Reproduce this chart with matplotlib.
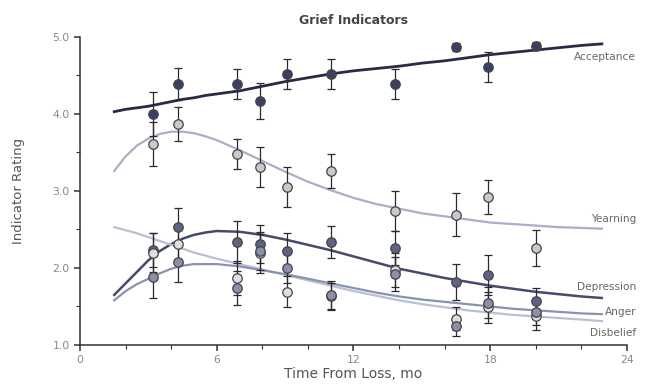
import matplotlib.pyplot as plt
from matplotlib.ticker import MultipleLocator

# measurement times (months)
tempos = [3.2, 4.3, 6.9, 7.9, 9.1, 11.0, 13.8, 16.5, 17.9, 20.0]

acceptance = [4.00, 4.39, 4.39, 4.17, 4.52, 4.52, 4.39, 4.87, 4.61, 4.88]
acceptance_err = [0.28, 0.21, 0.20, 0.23, 0.19, 0.19, 0.20, 0.05, 0.20, 0.05]
yearning = [3.61, 3.87, 3.48, 3.31, 3.05, 3.26, 2.74, 2.69, 2.92, 2.26]
yearning_err = [0.28, 0.22, 0.20, 0.26, 0.26, 0.22, 0.26, 0.28, 0.22, 0.23]
depression = [2.23, 2.53, 2.34, 2.31, 2.22, 2.34, 2.26, 1.82, 1.91, 1.57]
depression_err = [0.22, 0.25, 0.27, 0.25, 0.23, 0.21, 0.22, 0.23, 0.26, 0.17]
anger = [1.88, 2.08, 1.74, 2.22, 2.00, 1.65, 1.92, 1.25, 1.55, 1.43]
anger_err = [0.27, 0.26, 0.22, 0.25, 0.20, 0.18, 0.22, 0.13, 0.20, 0.17]
disbelief = [2.20, 2.31, 1.87, 2.19, 1.69, 1.63, 1.97, 1.34, 1.49, 1.37]
disbelief_err = [0.25, 0.25, 0.22, 0.25, 0.20, 0.18, 0.22, 0.15, 0.20, 0.17]

# fitted curves
curva_x = [1.5, 2, 2.5, 3, 3.5, 4, 4.5, 5, 5.5, 6, 7, 8, 9, 10, 11, 12, 13, 14,
           15, 16, 17, 18, 19, 20, 21, 22, 22.9]
curva_acc = [4.03, 4.06, 4.08, 4.10, 4.13, 4.16, 4.19, 4.21, 4.24, 4.26, 4.30, 4.36,
             4.42, 4.47, 4.52, 4.56, 4.59, 4.62, 4.66, 4.69, 4.73, 4.77, 4.80, 4.83,
             4.86, 4.89, 4.91]
curva_yea = [3.26, 3.45, 3.59, 3.68, 3.74, 3.77, 3.77, 3.75, 3.71, 3.66, 3.53, 3.39,
             3.25, 3.12, 3.01, 2.91, 2.83, 2.77, 2.71, 2.67, 2.63, 2.59, 2.57, 2.55,
             2.53, 2.52, 2.51]
curva_dep = [1.65, 1.80, 1.95, 2.10, 2.22, 2.31, 2.38, 2.43, 2.46, 2.48, 2.47, 2.43,
             2.37, 2.30, 2.23, 2.15, 2.07, 1.99, 1.93, 1.87, 1.82, 1.77, 1.73, 1.69,
             1.66, 1.63, 1.61]
curva_ang = [1.58, 1.70, 1.79, 1.86, 1.93, 1.99, 2.03, 2.05, 2.05, 2.05, 2.02, 1.97,
             1.92, 1.86, 1.80, 1.74, 1.68, 1.63, 1.59, 1.56, 1.53, 1.50, 1.47, 1.45,
             1.43, 1.41, 1.40]
curva_dis = [2.53, 2.49, 2.45, 2.40, 2.35, 2.30, 2.25, 2.20, 2.16, 2.12, 2.05, 1.98,
             1.91, 1.84, 1.77, 1.70, 1.64, 1.58, 1.53, 1.49, 1.45, 1.42, 1.39, 1.37,
             1.35, 1.33, 1.31]

nomes = ["Acceptance", "Yearning", "Depression", "Anger", "Disbelief"]
pos_rotulo = [4.74, 2.64, 1.75, 1.43, 1.16]

series = [
    (acceptance, acceptance_err, curva_acc, "#3a4064", "#262b48", 2.0),
    (yearning, yearning_err, curva_yea, "#c9c9cd", "#a9b0c6", 1.6),
    (depression, depression_err, curva_dep, "#5d6383", "#454b6c", 1.8),
    (disbelief, disbelief_err, curva_dis, "#dedede", "#b9c0d2", 1.6),
    (anger, anger_err, curva_ang, "#8a90aa", "#8a92b2", 1.6),
]

fig = plt.figure(figsize=(6.51, 3.85), dpi=100)
ax = fig.add_axes([0.123, 0.104, 0.84, 0.8])

for y, e, cy, cor_pt, cor_linha, lw in series:
    ax.plot(curva_x, cy, color=cor_linha, lw=lw, zorder=2)

for y, e, cy, cor_pt, cor_linha, lw in series:
    ax.errorbar(tempos, y, yerr=e, fmt="none", ecolor="#2a2a2a", elinewidth=0.9,
                capsize=3.2, capthick=0.9, zorder=3)
    ax.plot(tempos, y, "o", ms=6.8, mfc=cor_pt, mec="#444444", mew=0.9, zorder=4)

for nome, py in zip(nomes, pos_rotulo):
    ax.text(24.4, py, nome, ha="right", va="center", fontsize=7.6, color="#666666",
            clip_on=False)

ax.set_xlim(0, 24)
ax.set_ylim(1.0, 5.0)
ax.xaxis.set_major_locator(MultipleLocator(6))
ax.xaxis.set_minor_locator(MultipleLocator(2))
ax.yaxis.set_major_locator(MultipleLocator(1))
ax.yaxis.set_minor_locator(MultipleLocator(0.5))
ax.yaxis.set_major_formatter(plt.FormatStrFormatter("%.1f"))

for lado in ["top", "right"]:
    ax.spines[lado].set_visible(False)
for lado in ["left", "bottom"]:
    ax.spines[lado].set_color("#333333")
    ax.spines[lado].set_linewidth(1.1)

ax.tick_params(which="major", length=4, width=1.1, color="#333333", labelsize=7.8,
               labelcolor="#888888", direction="out")
ax.tick_params(which="minor", length=3, width=0.8, color="#333333", direction="out")

ax.set_xlabel("Time From Loss, mo", fontsize=10, color="#555555", labelpad=1)
ax.set_ylabel("Indicator Rating", fontsize=9.5, color="#555555", labelpad=20)
ax.set_title("Grief Indicators", fontsize=9, fontweight="bold", color="#444444", pad=9)

plt.savefig("out.png", dpi=100)
